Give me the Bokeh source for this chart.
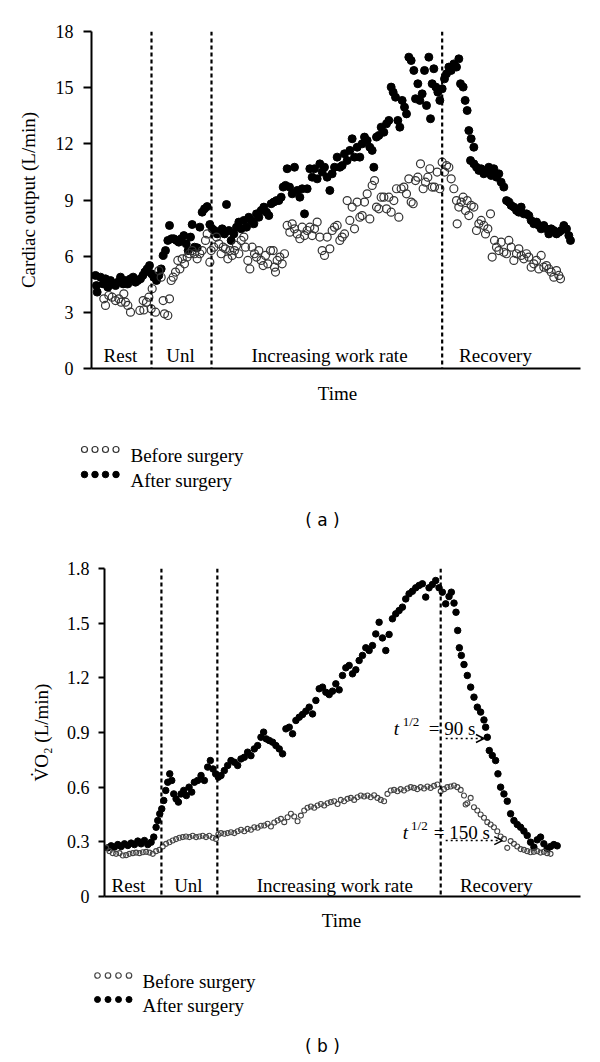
from bokeh.plotting import figure
from bokeh.models import Range1d, FixedTicker, Span, Arrow, OpenHead, NumeralTickFormatter
from bokeh.layouts import column
from bokeh.embed import file_html
from bokeh.resources import INLINE
from bokeh.core.properties import value

SERIF = "Liberation Serif"
SANS = "DejaVu Sans"

# ---------------- data: panel (a) cardiac output ----------------
phase_names = ["Rest", "Unl", "Increasing work rate", "Recovery"]
co_phase_ends = [180, 360, 1052]          # time (s) of phase boundaries
co_ticks = [0, 3, 6, 9, 12, 15, 18]

co_after_t = [12, 15, 17, 27, 35, 42, 49, 57, 65, 72, 79, 87, 95, 102, 109, 117, 125, 132, 139, 147,
              154, 160, 167, 174, 180, 187, 195, 202, 209, 215, 222, 229, 234, 240, 247, 255, 262, 269, 277, 284,
              290, 297, 302, 309, 317, 325, 332, 339, 347, 355, 362, 369, 377, 385, 392, 399, 405, 412, 419, 427,
              435, 442, 449, 457, 465, 472, 479, 487, 495, 502, 509, 517, 525, 532, 539, 547, 555, 562, 569, 575,
              582, 587, 594, 602, 609, 617, 625, 632, 639, 647, 655, 662, 669, 677, 685, 692, 699, 707, 715, 722,
              729, 737, 745, 752, 759, 767, 775, 782, 789, 797, 805, 812, 819, 827, 835, 842, 847, 855, 862, 869,
              877, 885, 892, 899, 905, 912, 919, 925, 932, 939, 945, 952, 959, 967, 972, 979, 985, 992, 999, 1005,
              1012, 1017, 1022, 1027, 1033, 1039, 1045, 1052, 1059, 1065, 1072, 1079, 1087, 1095, 1102, 1107, 1115, 1121, 1127, 1132,
              1139, 1147, 1137, 1147, 1155, 1162, 1169, 1177, 1185, 1192, 1199, 1207, 1215, 1222, 1229, 1237, 1245, 1252, 1259, 1267,
              1275, 1282, 1289, 1297, 1305, 1312, 1319, 1327, 1335, 1342, 1349, 1357, 1365, 1372, 1379, 1387, 1395, 1402, 1409, 1417,
              1425, 1432, 1437]
co_after = [4.97, 4.43, 4.08, 4.88, 4.52, 4.79, 4.34, 4.70, 4.52, 4.43, 4.61, 4.88, 4.52, 4.70, 4.52, 4.79, 4.88, 4.61, 4.70, 4.79,
            4.97, 5.15, 5.32, 5.50, 5.06, 4.88, 4.70, 4.97, 5.32, 6.04, 6.30, 6.84, 7.64, 6.93, 6.93, 6.84, 6.75, 6.93, 7.10, 6.66,
            6.30, 7.02, 7.69, 6.48, 6.45, 7.55, 8.35, 8.53, 8.65, 7.69, 7.46, 7.37, 7.19, 7.28, 7.46, 7.19, 8.76, 7.37, 6.84, 7.19,
            7.55, 7.82, 7.46, 7.91, 7.55, 8.08, 7.91, 7.73, 8.26, 8.08, 8.44, 8.62, 8.35, 8.17, 8.80, 8.89, 8.97, 8.97, 9.15, 9.69,
            9.78, 10.67, 9.69, 9.33, 10.75, 9.51, 9.15, 9.60, 8.26, 9.60, 10.67, 10.22, 10.67, 10.13, 10.93, 10.49, 10.75, 10.22, 9.51, 10.40,
            10.75, 11.29, 10.75, 10.84, 11.47, 11.11, 11.65, 12.27, 11.29, 11.82, 11.29, 12.00, 12.36, 12.18, 11.82, 11.65, 10.75, 12.36, 12.45, 12.89,
            12.62, 13.07, 13.25, 15.03, 14.76, 14.49, 13.25, 12.89, 14.32, 13.96, 13.60, 16.63, 16.45, 15.92, 14.41, 15.21, 14.32, 14.67, 15.92, 14.05,
            16.63, 13.34, 15.21, 16.01, 15.03, 14.76, 14.32, 14.94, 15.47, 15.74, 16.10, 15.92, 16.27, 16.10, 16.54, 15.21, 15.03, 14.32, 13.78, 12.71,
            12.27, 11.82, 11.11, 10.93, 10.75, 10.58, 10.67, 10.40, 10.49, 10.75, 10.31, 10.67, 10.22, 10.40, 9.95, 9.69, 8.97, 8.89, 8.71, 8.62,
            8.44, 8.35, 8.62, 8.26, 8.26, 8.17, 7.91, 7.73, 7.82, 7.64, 7.46, 7.64, 7.46, 7.19, 7.46, 7.37, 7.19, 7.28, 7.37, 7.64,
            7.46, 7.10, 6.84]

co_before_t = [37, 42, 52, 62, 72, 82, 89, 97, 102, 109, 117, 145, 155, 157, 165, 172, 179, 182, 192, 202,
               209, 215, 219, 229, 234, 239, 245, 252, 259, 265, 272, 279, 287, 294, 302, 309, 317, 325, 332, 342,
               347, 355, 359, 367, 375, 382, 389, 395, 402, 409, 415, 422, 429, 435, 442, 449, 457, 462, 469, 475,
               482, 489, 495, 502, 509, 515, 522, 529, 537, 545, 549, 552, 557, 565, 572, 579, 587, 595, 602, 609,
               617, 625, 632, 639, 647, 655, 662, 669, 677, 685, 692, 699, 707, 715, 722, 729, 737, 745, 752, 759,
               767, 775, 782, 789, 797, 805, 812, 819, 827, 835, 842, 849, 855, 862, 869, 877, 885, 892, 899, 907,
               915, 922, 929, 937, 945, 952, 959, 965, 972, 979, 987, 995, 1002, 1009, 1015, 1022, 1029, 1037, 1045, 1052,
               1059, 1065, 1072, 1079, 1087, 1095, 1097, 1102, 1109, 1115, 1122, 1127, 1132, 1139, 1147, 1155, 1162, 1169, 1177, 1182,
               1189, 1197, 1202, 1209, 1215, 1222, 1229, 1237, 1245, 1252, 1259, 1267, 1275, 1282, 1289, 1297, 1305, 1312, 1319, 1327,
               1335, 1342, 1349, 1357, 1365, 1372, 1379, 1387, 1395, 1402, 1407]
co_before = [3.72, 3.37, 3.90, 3.81, 3.63, 3.72, 3.54, 3.99, 3.54, 3.37, 3.01, 3.10, 3.63, 3.13, 3.54, 3.81, 3.19, 4.26, 3.01, 5.23,
             4.88, 3.63, 2.92, 2.83, 3.72, 4.70, 4.88, 5.15, 5.77, 5.32, 5.86, 5.59, 5.95, 6.13, 6.30, 6.13, 5.86, 6.13, 6.30, 6.84,
             7.19, 5.68, 6.30, 6.48, 7.02, 6.66, 6.13, 6.48, 6.39, 5.86, 6.30, 6.04, 6.30, 6.57, 6.13, 6.84, 7.02, 6.48, 5.77, 5.32,
             6.48, 6.13, 5.95, 6.30, 5.77, 5.50, 6.04, 5.59, 6.30, 6.30, 5.41, 5.15, 5.77, 5.95, 5.59, 6.13, 7.64, 7.28, 7.73, 7.46,
             7.19, 6.93, 7.55, 7.10, 7.37, 7.55, 7.10, 7.46, 7.82, 7.02, 6.30, 6.04, 7.02, 6.39, 7.37, 7.55, 7.64, 6.84, 7.02, 7.19,
             8.97, 7.91, 8.62, 7.46, 8.89, 8.08, 8.17, 8.89, 9.33, 7.99, 9.78, 10.04, 8.62, 8.53, 9.15, 9.15, 8.53, 9.15, 8.35, 8.97,
             9.60, 8.08, 9.60, 9.69, 9.33, 10.13, 8.89, 8.80, 10.04, 10.22, 10.93, 9.60, 9.95, 10.22, 10.67, 9.69, 9.69, 10.49, 9.60, 11.02,
             10.49, 10.84, 10.75, 10.13, 9.60, 8.97, 7.73, 8.62, 8.89, 9.15, 8.44, 8.97, 8.17, 8.71, 8.62, 7.37, 7.73, 7.91, 7.64, 7.19,
             7.46, 8.26, 5.95, 6.84, 6.48, 6.30, 6.75, 6.21, 6.13, 6.84, 6.48, 5.77, 6.13, 6.39, 6.04, 5.86, 6.13, 5.95, 5.41, 5.59,
             5.77, 5.32, 6.04, 5.41, 5.50, 5.32, 5.15, 4.88, 5.23, 4.97, 4.79]

# ---------------- data: panel (b) oxygen uptake ----------------
vo2_phase_ends = [171, 339, 1010]
vo2_ticks = [0, 0.3, 0.6, 0.9, 1.2, 1.5, 1.8]

vo2_after_t = [10, 20, 30, 40, 50, 60, 70, 80, 90, 100, 110, 120, 130, 140, 148, 155, 160, 166, 172, 178,
               184, 190, 196, 202, 208, 215, 222, 230, 238, 246, 254, 262, 270, 280, 290, 300, 310, 318, 326, 334,
               342, 350, 360, 370, 380, 390, 400, 410, 420, 430, 440, 450, 460, 470, 478, 486, 495, 505, 515, 525,
               535, 545, 555, 565, 575, 585, 595, 605, 615, 625, 635, 645, 655, 665, 675, 685, 695, 705, 715, 725,
               735, 745, 755, 765, 775, 785, 795, 805, 815, 825, 835, 845, 855, 865, 875, 885, 895, 905, 915, 925,
               935, 945, 955, 965, 975, 985, 995, 1005, 1015, 1025, 1035, 1042, 1050, 1056, 1061, 1066, 1072, 1080, 1090, 1100,
               1110, 1120, 1130, 1140, 1145, 1150, 1156, 1165, 1175, 1182, 1190, 1200, 1210, 1220, 1230, 1240, 1250, 1260, 1270, 1280,
               1290, 1300, 1310, 1320, 1330, 1340, 1350, 1360]
vo2_after = [0.267, 0.278, 0.271, 0.285, 0.274, 0.289, 0.280, 0.293, 0.285, 0.304, 0.289, 0.307, 0.285, 0.298, 0.326, 0.380, 0.417, 0.454, 0.481, 0.527,
             0.582, 0.627, 0.673, 0.637, 0.563, 0.536, 0.518, 0.563, 0.582, 0.554, 0.600, 0.573, 0.627, 0.637, 0.664, 0.637, 0.710, 0.746, 0.700, 0.673,
             0.655, 0.664, 0.691, 0.719, 0.746, 0.737, 0.719, 0.755, 0.764, 0.792, 0.773, 0.810, 0.828, 0.874, 0.902, 0.865, 0.856, 0.847, 0.828, 0.810,
             0.783, 0.920, 0.929, 0.893, 0.966, 0.984, 0.999, 1.017, 1.039, 1.002, 1.076, 1.140, 1.149, 1.121, 1.108, 1.127, 1.167, 1.134, 1.213, 1.255,
             1.268, 1.222, 1.244, 1.295, 1.323, 1.365, 1.350, 1.377, 1.441, 1.505, 1.419, 1.350, 1.438, 1.524, 1.551, 1.569, 1.588, 1.633, 1.661, 1.675,
             1.694, 1.707, 1.716, 1.643, 1.694, 1.712, 1.734, 1.694, 1.670, 1.606, 1.646, 1.670, 1.610, 1.560, 1.460, 1.365, 1.323, 1.273, 1.213, 1.149,
             1.094, 1.039, 1.012, 0.969, 0.929, 0.874, 0.801, 0.774, 0.746, 0.673, 0.600, 0.563, 0.523, 0.454, 0.417, 0.395, 0.380, 0.359, 0.335, 0.298,
             0.271, 0.311, 0.326, 0.289, 0.262, 0.274, 0.285, 0.278]

vo2_before_t = [5, 15, 25, 35, 45, 55, 65, 75, 85, 95, 105, 115, 125, 135, 145, 155, 165, 175, 185, 195,
                205, 215, 225, 235, 245, 255, 265, 275, 285, 295, 305, 315, 325, 335, 342, 350, 360, 370, 380, 390,
                400, 410, 420, 430, 440, 450, 460, 470, 480, 490, 500, 510, 520, 530, 540, 550, 560, 570, 580, 590,
                600, 610, 620, 630, 640, 650, 660, 670, 680, 690, 700, 710, 720, 730, 740, 750, 760, 770, 780, 790,
                800, 810, 820, 830, 840, 850, 860, 870, 880, 890, 900, 910, 920, 930, 940, 950, 960, 970, 980, 990,
                1000, 1010, 1020, 1030, 1040, 1050, 1060, 1070, 1080, 1085, 1090, 1100, 1110, 1120, 1130, 1140, 1150, 1160, 1170, 1180,
                1190, 1200, 1210, 1220, 1230, 1240, 1250, 1260, 1270, 1280, 1290, 1300, 1310, 1320, 1330, 1340]
vo2_before = [0.267, 0.249, 0.238, 0.234, 0.238, 0.225, 0.227, 0.234, 0.238, 0.241, 0.238, 0.243, 0.245, 0.241, 0.234, 0.249, 0.256, 0.274, 0.289, 0.298,
              0.307, 0.315, 0.322, 0.326, 0.329, 0.326, 0.333, 0.326, 0.329, 0.333, 0.326, 0.333, 0.322, 0.316, 0.340, 0.348, 0.344, 0.348, 0.353, 0.348,
              0.358, 0.366, 0.358, 0.371, 0.366, 0.380, 0.377, 0.388, 0.390, 0.399, 0.384, 0.406, 0.417, 0.426, 0.408, 0.435, 0.454, 0.439, 0.413, 0.444,
              0.472, 0.487, 0.494, 0.487, 0.499, 0.508, 0.499, 0.512, 0.518, 0.523, 0.508, 0.530, 0.523, 0.536, 0.541, 0.530, 0.545, 0.554, 0.549, 0.554,
              0.545, 0.556, 0.541, 0.530, 0.523, 0.563, 0.582, 0.585, 0.578, 0.589, 0.582, 0.593, 0.600, 0.596, 0.589, 0.600, 0.593, 0.604, 0.596, 0.607,
              0.615, 0.578, 0.589, 0.600, 0.604, 0.609, 0.600, 0.585, 0.554, 0.505, 0.512, 0.541, 0.490, 0.472, 0.450, 0.432, 0.408, 0.395, 0.380, 0.358,
              0.329, 0.316, 0.267, 0.304, 0.289, 0.274, 0.260, 0.256, 0.249, 0.243, 0.245, 0.249, 0.241, 0.245, 0.238, 0.234]

half_time_labels = ["= 90 s", "= 150 s"]

W = 592   # the page template puts the layout at the window's top-left corner


def style_main(p, ticks, tick_out, standoff, label, label_standoff):
    p.outline_line_color = None
    p.grid.visible = False
    p.background_fill_color = "white"
    p.border_fill_color = "white"
    xa = p.xaxis[0]
    xa.ticker = FixedTicker(ticks=[])
    xa.major_tick_out = 0
    xa.major_tick_in = 0
    xa.minor_tick_out = 0
    xa.minor_tick_in = 0
    xa.major_label_text_font_size = "0px"
    xa.axis_line_width = 2
    xa.axis_line_color = "black"
    ya = p.yaxis[0]
    ya.ticker = FixedTicker(ticks=ticks)
    ya.major_tick_out = tick_out
    ya.major_tick_in = 0
    ya.minor_tick_out = 0
    ya.minor_tick_in = 0
    ya.major_tick_line_width = 2
    ya.major_tick_line_color = "black"
    ya.axis_line_width = 2
    ya.axis_line_color = "black"
    ya.major_label_standoff = standoff
    ya.major_label_text_font = SERIF
    ya.major_label_text_font_size = "18px"
    ya.major_label_text_color = "black"
    ya.axis_label = label
    ya.axis_label_text_font = SERIF
    ya.axis_label_text_font_size = "19px"
    ya.axis_label_text_font_style = "normal"
    ya.axis_label_text_color = "black"
    ya.axis_label_standoff = label_standoff


def add_phases(p, ends):
    for e in ends:
        p.add_layout(Span(location=e, dimension="height", line_color="black",
                          line_width=2.2, line_dash="4 3"))


# ---------------- panel (a) ----------------
pa = figure(width=W, height=382, x_range=Range1d(0, 1467), y_range=Range1d(0, 18),
            output_backend="svg", toolbar_location=None, frame_align=False,
            min_border_left=91, min_border_right=12, min_border_top=31, min_border_bottom=14)
style_main(pa, co_ticks, 8, 10, "Cardiac output (L/min)", 14)
add_phases(pa, co_phase_ends)
pa.scatter(co_after_t, co_after, size=8, marker="circle", fill_color="black", line_color="black")
pa.scatter(co_before_t, co_before, size=8, marker="circle", fill_color=None,
           line_color="#333333", line_width=1.2)
pa.text(x=[87, 267, 714, 1212], y=[0.7] * 4, text=phase_names,
        text_font=value(SERIF), text_font_size="19px", text_align="center",
        text_baseline="alphabetic", text_color="black")

# ---------------- panel (b) ----------------
pb = figure(width=W, height=370, x_range=Range1d(0, 1430), y_range=Range1d(0, 1.8),
            output_backend="svg", toolbar_location=None, frame_align=False,
            min_border_left=104, min_border_right=12, min_border_top=28, min_border_bottom=14)
style_main(pb, vo2_ticks, 6, 9, "V\u0307O\u2082 (L/min)", 12)
pb.yaxis[0].formatter = NumeralTickFormatter(format="0.[0]")
add_phases(pb, vo2_phase_ends)
pb.scatter(vo2_after_t, vo2_after, size=6.5, marker="circle", fill_color="black", line_color="black")
pb.scatter(vo2_before_t, vo2_before, size=5, marker="circle", fill_color=None,
           line_color="#444444", line_width=1.1)
pb.text(x=[72, 252, 692, 1177], y=[0.06] * 4, text=phase_names,
        text_font=value(SERIF), text_font_size="19px", text_align="center",
        text_baseline="alphabetic", text_color="black")
# half-time annotations
pb.text(x=[869, 896], y=[0.922, 0.351], text=["t", "t"], text_font=value(SERIF),
        text_font_size="19px", text_font_style="italic", text_baseline="alphabetic", text_color="black")
pb.text(x=[896, 921], y=[0.962, 0.392], text=["1/2", "1/2"], text_font=value(SERIF),
        text_font_size="13px", text_baseline="alphabetic", text_color="black")
pb.text(x=[974, 989], y=[0.922, 0.351], text=half_time_labels, text_font=value(SERIF),
        text_font_size="19px", text_baseline="alphabetic", text_color="black")
pb.add_layout(Arrow(end=OpenHead(size=8, line_width=1.5, line_color="black"),
                    x_start=1025, y_start=0.867, x_end=1140, y_end=0.867,
                    line_dash="2 3", line_width=1.5, line_color="black"))
pb.add_layout(Arrow(end=OpenHead(size=8, line_width=1.5, line_color="black"),
                    x_start=1025, y_start=0.307, x_end=1195, y_end=0.307,
                    line_dash="2 3", line_width=1.5, line_color="black"))


# ---------------- legend / caption strips (page pixel coordinates) ----------------
def strip(top, height):
    f = figure(width=W, height=height, x_range=Range1d(0, W),
               y_range=Range1d(top + height, top), output_backend="svg",
               toolbar_location=None, x_axis_location=None, y_axis_location=None,
               min_border=0, frame_align=False)
    f.outline_line_color = None
    f.grid.visible = False
    return f


def fill_strip(f, time_x, time_y, mk_x, row1, row2, txt_x, mk_size, open_color, cap_x, cap_y, cap):
    f.text(x=[time_x], y=[time_y], text=["Time"], text_font=value(SERIF), text_font_size="19px",
           text_align="center", text_baseline="alphabetic", text_color="black")
    f.scatter(mk_x, [row1] * 4, size=mk_size, fill_color=None, line_color=open_color, line_width=1.2)
    f.scatter(mk_x, [row2] * 4, size=mk_size + 0.5, fill_color="black", line_color="black")
    f.text(x=[txt_x, txt_x], y=[row1 + 6, row2 + 6], text=["Before surgery", "After surgery"],
           text_font=value(SERIF), text_font_size="19px", text_baseline="alphabetic", text_color="black")
    f.text(x=[cap_x], y=[cap_y], text=[cap], text_font=value(SANS), text_font_size="17px",
           text_align="center", text_baseline="middle", text_color="black")


la = strip(382, 158)
fill_strip(la, 337, 393, [84, 94.5, 105, 115.5], 449, 474, 130, 6, "#333333", 322, 519, "( a )")

lb = strip(910, 152)
fill_strip(lb, 341, 920, [97, 107.5, 118, 128.5], 975, 999, 142, 5.5, "#444444", 322, 1045, "( b )")

layout = column(pa, la, pb, lb)
open("out.html", "w").write(file_html(layout, INLINE))
